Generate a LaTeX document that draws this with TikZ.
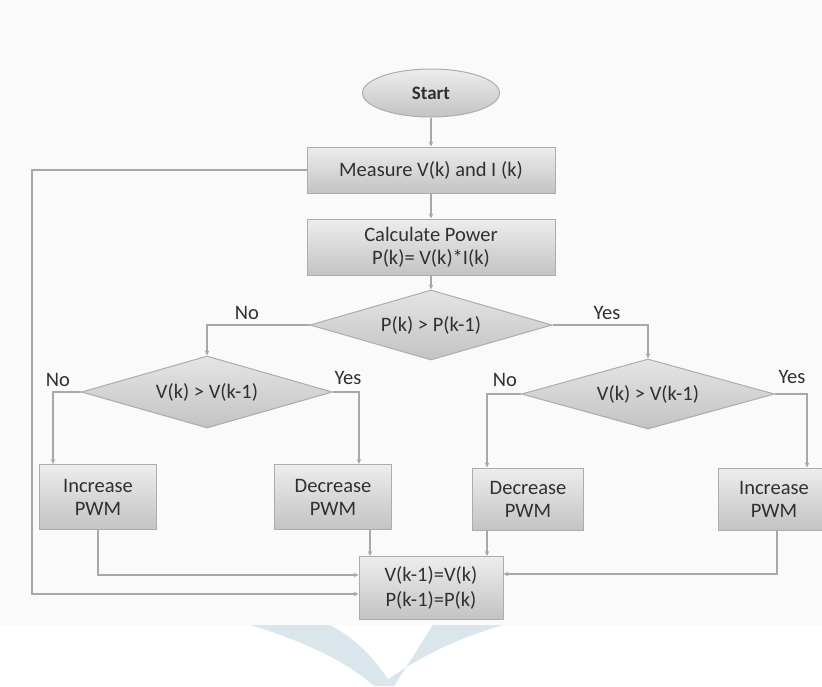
\documentclass[tikz,border=0pt]{standalone}
\usepackage{fontspec}
\setmainfont{Carlito}
\usetikzlibrary{shapes.geometric,arrows.meta}
\definecolor{ln}{HTML}{A8A8A8}
\definecolor{txt}{HTML}{303030}
\definecolor{bd}{HTML}{ACACAC}
\definecolor{wm}{HTML}{DAE6EC}
\definecolor{bg}{HTML}{FAFAFA}
\definecolor{ftop}{HTML}{EDEDED}
\definecolor{fbot}{HTML}{C3C3C3}
\tikzset{
  base/.style={draw=bd, line width=1pt, top color=ftop, bottom color=fbot,
    text=txt, font=\fontsize{20.5}{23}\selectfont, align=center, inner sep=0pt},
  procbox/.style={base, rectangle},
  termbox/.style={base, ellipse, font=\fontsize{19}{22}\selectfont\bfseries},
  decbox/.style={base, diamond, aspect=3.5, top color=ftop!80!fbot, bottom color=fbot},
  conn/.style={draw=ln, line width=1.1pt, -{Stealth[length=5pt,width=4.5pt]}},
  lbl/.style={text=txt, font=\fontsize{20.5}{23}\selectfont, inner sep=0pt}
}
\begin{document}
\begin{tikzpicture}[x=1pt,y=-1pt]
\useasboundingbox (0,0) rectangle (822,686);
\fill[white] (0,0) rectangle (822,686);
\fill[bg] (0,0) rectangle (822,625);
% watermark
\fill[wm] (250,625) .. controls (300,640) and (345,660) .. (374,686) -- (392,686) .. controls (378,662) and (358,640) .. (330,625) -- cycle;
\fill[wm] (503,625) .. controls (450,640) and (405,665) .. (380,686) -- (394,686) .. controls (408,665) and (420,645) .. (433,625) -- cycle;

% nodes
\node[termbox, minimum width=137pt, minimum height=48pt] (start) at (431,93) {Start};
\node[procbox, minimum width=248pt, minimum height=46pt] (measure) at (431,170) {Measure V(k) and I (k)};
\node[procbox, minimum width=248pt, minimum height=56pt, font=\fontsize{20.5}{23}\selectfont] (calc) at (431,247) {Calculate Power\\P(k)= V(k)*I(k)};
\node[decbox, minimum width=242pt, minimum height=70pt] (pdec) at (431,325) {P(k) > P(k-1)};
\node[decbox, minimum width=251pt, minimum height=72pt] (v1) at (207,392) {V(k) > V(k-1)};
\node[decbox, minimum width=253pt, minimum height=70pt] (v2) at (648,394) {V(k) > V(k-1)};
\node[procbox, minimum width=117pt, minimum height=65pt] (inc1) at (98,497) {Increase\\PWM};
\node[procbox, minimum width=117pt, minimum height=65pt] (dec1) at (333,497) {Decrease\\PWM};
\node[procbox, minimum width=111pt, minimum height=62pt] (dec2) at (528,499) {Decrease\\PWM};
\node[procbox, minimum width=112pt, minimum height=62pt] (inc2) at (774,499) {Increase\\PWM};
\node[procbox, minimum width=144pt, minimum height=63pt, font=\fontsize{20.5}{25}\selectfont] (fin) at (431,588) {V(k-1)=V(k)\\P(k-1)=P(k)};

% labels
\node[lbl] (lno0) at (247,313) {No};
\node[lbl] (lyes0) at (607,313) {Yes};
\node[lbl] (lno1) at (58,380) {No};
\node[lbl] (lyes1) at (348,378) {Yes};
\node[lbl] (lno2) at (505,380) {No};
\node[lbl] (lyes2) at (792,377) {Yes};

% connectors
\draw[conn] (start.south) -- (measure.north);
\draw[conn] (measure.south) -- (calc.north);
\draw[conn] (calc.south) -- (pdec.north);
\draw[conn] (pdec.west) -| (v1.north);
\draw[conn] (pdec.east) -| (v2.north);
\draw[conn] (v1.west) -| ([xshift=14pt]inc1.north west);
\draw[conn] (v1.east) -| ([xshift=26pt]dec1.north);
\draw[conn] (v2.west) -| ([xshift=15pt]dec2.north west);
\draw[conn] (v2.east) -| ([xshift=33pt]inc2.north);

\coordinate (d1o) at ([xshift=37pt]dec1.south);
\coordinate (d2o) at ([xshift=-41pt]dec2.south);
\coordinate (i2o) at ([xshift=3pt]inc2.south);
\draw[conn] (d1o) -- (d1o |- fin.north);
\draw[conn] (d2o) -- (d2o |- fin.north);
\draw[conn] (inc1.south) |- ([yshift=13pt]fin.west);
\draw[conn] (i2o) |- ([yshift=14pt]fin.east);
\coordinate (loopc) at (32,170);
\draw[conn] (measure.west) -- (loopc) |- ([yshift=-6pt]fin.west);
\end{tikzpicture}
\end{document}
